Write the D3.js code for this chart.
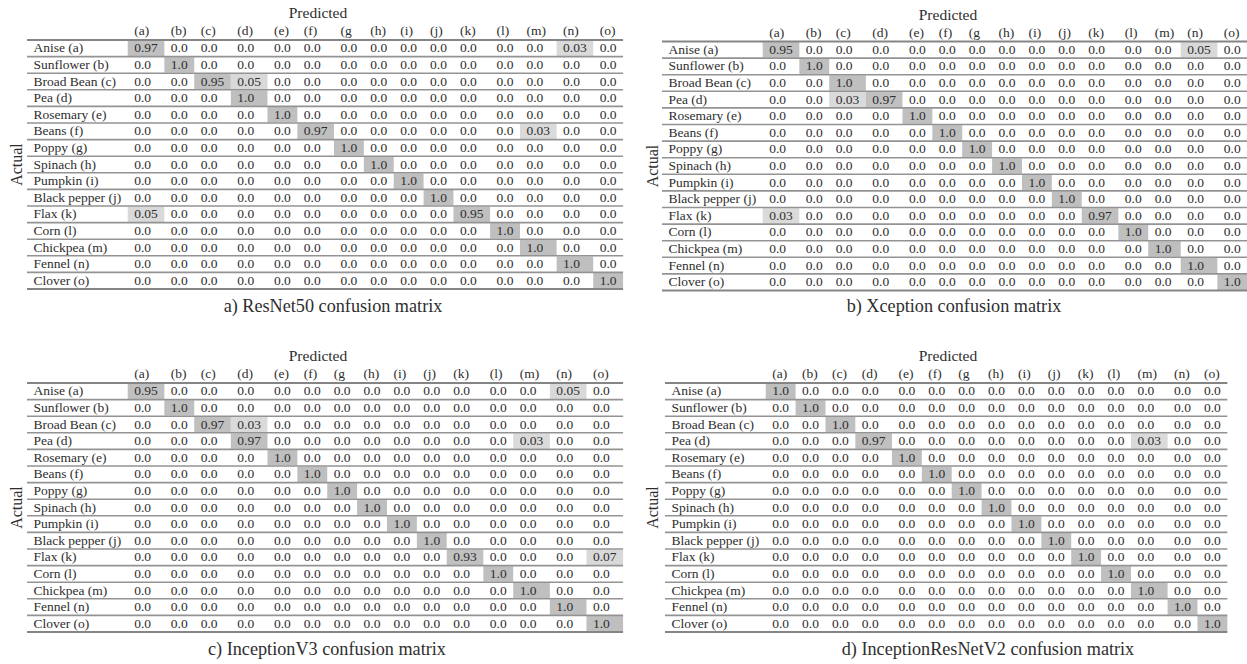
<!DOCTYPE html>
<html>
<head>
<meta charset="utf-8">
<script src="https://cdn.jsdelivr.net/npm/d3@7"></script>
<style>
  html, body { margin: 0; padding: 0; background: #fff; }
  svg { display: block; }
</style>
</head>
<body>
<svg id="chart" width="1247" height="664"></svg>
<script>
// Seed classes (rows = actual, columns = predicted)
const classNames = [
  "Anise (a)", "Sunflower (b)", "Broad Bean (c)", "Pea (d)", "Rosemary (e)",
  "Beans (f)", "Poppy (g)", "Spinach (h)", "Pumpkin (i)", "Black pepper (j)",
  "Flax (k)", "Corn (l)", "Chickpea (m)", "Fennel (n)", "Clover (o)"
];
const colLabels = ["(a)", "(b)", "(c)", "(d)", "(e)", "(f)", "(g", "(h)", "(i)", "(j)", "(k)", "(l)", "(m)", "(n)", "(o)"];
const captions = [
  "a) ResNet50 confusion matrix",
  "b) Xception confusion matrix",
  "c) InceptionV3 confusion matrix",
  "d) InceptionResNetV2 confusion matrix"
];

// Normalised confusion matrices, one row per actual class
const resnet50 = [
  [0.97,0,0,0,0,0,0,0,0,0,0,0,0,0.03,0],
  [0,1,0,0,0,0,0,0,0,0,0,0,0,0,0],
  [0,0,0.95,0.05,0,0,0,0,0,0,0,0,0,0,0],
  [0,0,0,1,0,0,0,0,0,0,0,0,0,0,0],
  [0,0,0,0,1,0,0,0,0,0,0,0,0,0,0],
  [0,0,0,0,0,0.97,0,0,0,0,0,0,0.03,0,0],
  [0,0,0,0,0,0,1,0,0,0,0,0,0,0,0],
  [0,0,0,0,0,0,0,1,0,0,0,0,0,0,0],
  [0,0,0,0,0,0,0,0,1,0,0,0,0,0,0],
  [0,0,0,0,0,0,0,0,0,1,0,0,0,0,0],
  [0.05,0,0,0,0,0,0,0,0,0,0.95,0,0,0,0],
  [0,0,0,0,0,0,0,0,0,0,0,1,0,0,0],
  [0,0,0,0,0,0,0,0,0,0,0,0,1,0,0],
  [0,0,0,0,0,0,0,0,0,0,0,0,0,1,0],
  [0,0,0,0,0,0,0,0,0,0,0,0,0,0,1]
];
const xception = [
  [0.95,0,0,0,0,0,0,0,0,0,0,0,0,0.05,0],
  [0,1,0,0,0,0,0,0,0,0,0,0,0,0,0],
  [0,0,1,0,0,0,0,0,0,0,0,0,0,0,0],
  [0,0,0.03,0.97,0,0,0,0,0,0,0,0,0,0,0],
  [0,0,0,0,1,0,0,0,0,0,0,0,0,0,0],
  [0,0,0,0,0,1,0,0,0,0,0,0,0,0,0],
  [0,0,0,0,0,0,1,0,0,0,0,0,0,0,0],
  [0,0,0,0,0,0,0,1,0,0,0,0,0,0,0],
  [0,0,0,0,0,0,0,0,1,0,0,0,0,0,0],
  [0,0,0,0,0,0,0,0,0,1,0,0,0,0,0],
  [0.03,0,0,0,0,0,0,0,0,0,0.97,0,0,0,0],
  [0,0,0,0,0,0,0,0,0,0,0,1,0,0,0],
  [0,0,0,0,0,0,0,0,0,0,0,0,1,0,0],
  [0,0,0,0,0,0,0,0,0,0,0,0,0,1,0],
  [0,0,0,0,0,0,0,0,0,0,0,0,0,0,1]
];
const inceptionV3 = [
  [0.95,0,0,0,0,0,0,0,0,0,0,0,0,0.05,0],
  [0,1,0,0,0,0,0,0,0,0,0,0,0,0,0],
  [0,0,0.97,0.03,0,0,0,0,0,0,0,0,0,0,0],
  [0,0,0,0.97,0,0,0,0,0,0,0,0,0.03,0,0],
  [0,0,0,0,1,0,0,0,0,0,0,0,0,0,0],
  [0,0,0,0,0,1,0,0,0,0,0,0,0,0,0],
  [0,0,0,0,0,0,1,0,0,0,0,0,0,0,0],
  [0,0,0,0,0,0,0,1,0,0,0,0,0,0,0],
  [0,0,0,0,0,0,0,0,1,0,0,0,0,0,0],
  [0,0,0,0,0,0,0,0,0,1,0,0,0,0,0],
  [0,0,0,0,0,0,0,0,0,0,0.93,0,0,0,0.07],
  [0,0,0,0,0,0,0,0,0,0,0,1,0,0,0],
  [0,0,0,0,0,0,0,0,0,0,0,0,1,0,0],
  [0,0,0,0,0,0,0,0,0,0,0,0,0,1,0],
  [0,0,0,0,0,0,0,0,0,0,0,0,0,0,1]
];
const inceptionResNetV2 = [
  [1,0,0,0,0,0,0,0,0,0,0,0,0,0,0],
  [0,1,0,0,0,0,0,0,0,0,0,0,0,0,0],
  [0,0,1,0,0,0,0,0,0,0,0,0,0,0,0],
  [0,0,0,0.97,0,0,0,0,0,0,0,0,0.03,0,0],
  [0,0,0,0,1,0,0,0,0,0,0,0,0,0,0],
  [0,0,0,0,0,1,0,0,0,0,0,0,0,0,0],
  [0,0,0,0,0,0,1,0,0,0,0,0,0,0,0],
  [0,0,0,0,0,0,0,1,0,0,0,0,0,0,0],
  [0,0,0,0,0,0,0,0,1,0,0,0,0,0,0],
  [0,0,0,0,0,0,0,0,0,1,0,0,0,0,0],
  [0,0,0,0,0,0,0,0,0,0,1,0,0,0,0],
  [0,0,0,0,0,0,0,0,0,0,0,1,0,0,0],
  [0,0,0,0,0,0,0,0,0,0,0,0,1,0,0],
  [0,0,0,0,0,0,0,0,0,0,0,0,0,1,0],
  [0,0,0,0,0,0,0,0,0,0,0,0,0,0,1]
];
const matrices = [resnet50, xception, inceptionV3, inceptionResNetV2];

// Placement of the four tables on the page
const layout = [
  { x: 27,  y: 40,   predX: 318, actualX: 16,  capX: 333, capY: 312 },
  { x: 662, y: 41.5, predX: 948, actualX: 652, capX: 954, capY: 312 },
  { x: 27,  y: 383,  predX: 318, actualX: 16,  capX: 327, capY: 655 },
  { x: 665, y: 383,  predX: 948, actualX: 652, capX: 988, capY: 655 }
];

const FONT = "'Liberation Serif', 'Times New Roman', Times, serif";
const BODY_SIZE = 13.5;
const PAD = 6.5;
const ROW_H = 16.6;
const TEXT_COLOR = "#2e2e2e";

const svg = d3.select("#chart");
svg.append("rect").attr("width", 1247).attr("height", 664).attr("fill", "#fff");

const fmt = v => (v === 0 || v === 1) ? v.toFixed(1) : v.toFixed(2);

// Measure rendered string widths at the body font size
const measurer = svg.append("text")
  .attr("font-family", FONT).attr("font-size", BODY_SIZE).attr("opacity", 0);
function textWidth(s) {
  measurer.text(s);
  return measurer.node().getComputedTextLength();
}

const shade = d3.scaleLinear().domain([0.03, 1]).range(["#dadada", "#bfbfbf"]).clamp(true);

matrices.forEach((m, p) => {
  const L = layout[p];
  const g = svg.append("g").attr("transform", `translate(${L.x},${L.y})`);

  // column widths sized to their widest entry, like a left-aligned table
  const labelW = d3.max(classNames, textWidth) + 2 * PAD;
  const colW = colLabels.map((c, j) =>
    d3.max([c, ...m.map(r => fmt(r[j]))], textWidth) + 2 * PAD);
  const starts = colW.map((w, j) => labelW + d3.sum(colW.slice(0, j)));
  const totalW = labelW + d3.sum(colW);

  const x = d3.scaleOrdinal().domain(d3.range(colLabels.length)).range(starts);
  const y = d3.scaleBand().domain(classNames).range([0, classNames.length * ROW_H]);

  const cells = m.flatMap((row, i) => row.map((v, j) => ({ i, j, v })));

  // shaded non-zero cells
  g.selectAll("rect.cell")
    .data(cells.filter(d => d.v > 0))
    .join("rect")
    .attr("class", "cell")
    .attr("x", d => x(d.j))
    .attr("y", d => y(classNames[d.i]) + 0.6)
    .attr("width", d => colW[d.j])
    .attr("height", y.bandwidth() - 1.2)
    .attr("fill", d => shade(d.v));

  // row rules
  const rules = d3.range(classNames.length + 1);
  g.selectAll("line.rule")
    .data(rules)
    .join("line")
    .attr("class", "rule")
    .attr("x1", 0).attr("x2", totalW)
    .attr("y1", i => i * ROW_H).attr("y2", i => i * ROW_H)
    .attr("stroke", i => (i === 0 || i === classNames.length) ? "#858585" : "#939393")
    .attr("stroke-width", i => (i === 0 || i === classNames.length) ? 2 : 1.6);

  // row labels
  g.selectAll("text.rowlab")
    .data(classNames)
    .join("text")
    .attr("class", "rowlab")
    .attr("x", PAD)
    .attr("y", d => y(d) + 12.3)
    .attr("font-family", FONT).attr("font-size", BODY_SIZE)
    .attr("fill", TEXT_COLOR)
    .text(d => d);

  // column headers
  g.selectAll("text.collab")
    .data(colLabels)
    .join("text")
    .attr("class", "collab")
    .attr("x", (d, j) => x(j) + PAD)
    .attr("y", -5)
    .attr("font-family", FONT).attr("font-size", BODY_SIZE)
    .attr("fill", TEXT_COLOR)
    .text(d => d);

  // cell values
  g.selectAll("text.val")
    .data(cells)
    .join("text")
    .attr("class", "val")
    .attr("x", d => x(d.j) + PAD)
    .attr("y", d => y(classNames[d.i]) + 12.3)
    .attr("font-family", FONT).attr("font-size", BODY_SIZE)
    .attr("fill", TEXT_COLOR)
    .text(d => fmt(d.v));

  // axis titles
  svg.append("text")
    .attr("x", L.predX).attr("y", L.y - 22)
    .attr("text-anchor", "middle")
    .attr("font-family", FONT).attr("font-size", 15.5)
    .attr("fill", TEXT_COLOR)
    .text("Predicted");

  svg.append("text")
    .attr("transform", `translate(${L.actualX + 5.5},${L.y + classNames.length * ROW_H / 2}) rotate(-90)`)
    .attr("text-anchor", "middle")
    .attr("font-family", FONT).attr("font-size", 16)
    .attr("fill", TEXT_COLOR)
    .text("Actual");

  // caption
  svg.append("text")
    .attr("x", L.capX).attr("y", L.capY)
    .attr("text-anchor", "middle")
    .attr("font-family", FONT).attr("font-size", 18.2)
    .attr("fill", TEXT_COLOR)
    .text(captions[p]);
});

measurer.remove();
</script>
</body>
</html>
